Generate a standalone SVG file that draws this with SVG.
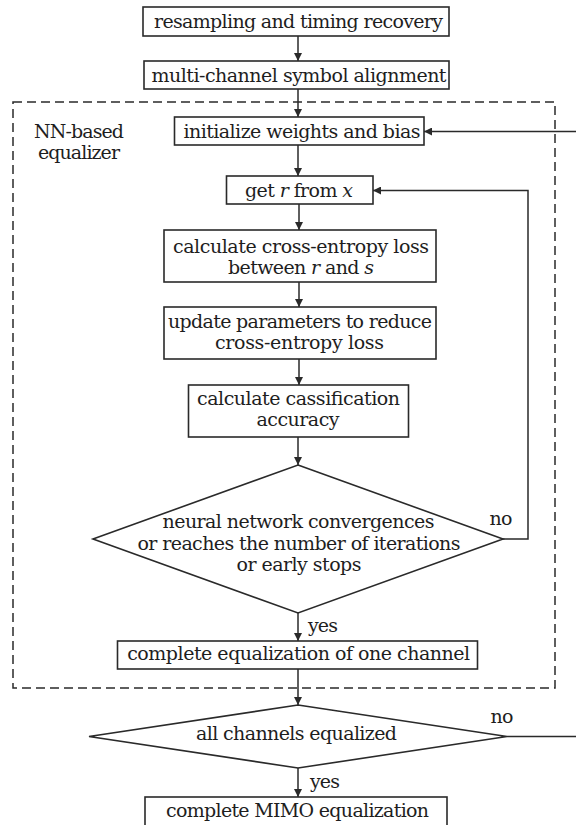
<svg xmlns="http://www.w3.org/2000/svg" width="576" height="825" viewBox="0 0 576 825">
<style>
.box{fill:#fff;stroke:#2a2a2a;stroke-width:1.6}
.ln{fill:none;stroke:#2a2a2a;stroke-width:1.5}
.dash{fill:none;stroke:#2a2a2a;stroke-width:1.5;stroke-dasharray:9 5}
text{font-family:"DejaVu Serif","Liberation Serif",serif;font-size:19px;fill:#1e1e1e;text-anchor:middle}
.it{font-style:italic}
</style>
<defs>
<marker id="ah" viewBox="0 0 10 10" refX="10" refY="5" markerWidth="8" markerHeight="8" markerUnits="userSpaceOnUse" orient="auto">
<path d="M0,0 L10,5 L0,10 z" fill="#2a2a2a"/>
</marker>
</defs>
<rect width="576" height="825" fill="#fff"/>
<rect id="equalizer-frame" class="dash" x="13" y="102" width="542" height="586"/>
<g id="connectors">
<line class="ln" x1="298" y1="36" x2="298" y2="61" marker-end="url(#ah)"/>
<line class="ln" x1="298" y1="89" x2="298" y2="117" marker-end="url(#ah)"/>
<line class="ln" x1="298" y1="145" x2="298" y2="176" marker-end="url(#ah)"/>
<line class="ln" x1="299" y1="204" x2="299" y2="230" marker-end="url(#ah)"/>
<line class="ln" x1="299" y1="282" x2="299" y2="307" marker-end="url(#ah)"/>
<line class="ln" x1="299" y1="359" x2="299" y2="385" marker-end="url(#ah)"/>
<line class="ln" x1="298" y1="437" x2="298" y2="465" marker-end="url(#ah)"/>
<line class="ln" x1="298" y1="613" x2="298" y2="641" marker-end="url(#ah)"/>
<line class="ln" x1="298" y1="669" x2="298" y2="705" marker-end="url(#ah)"/>
<line class="ln" x1="298" y1="768" x2="298" y2="797" marker-end="url(#ah)"/>
<polyline class="ln" points="503,539 528,539 528,190.5 373,190.5" marker-end="url(#ah)"/>
<line class="ln" x1="576" y1="131.5" x2="424" y2="131.5" marker-end="url(#ah)"/>
<line class="ln" x1="507" y1="736.5" x2="576" y2="736.5"/>
<text x="323" y="632" textLength="30">yes</text>
<text x="501" y="525" textLength="23">no</text>
<text x="325" y="788" textLength="30">yes</text>
<text x="502" y="723" textLength="23">no</text>
</g>
<g id="label-nn">
<text x="79" y="138" textLength="90">NN-based</text>
<text x="79" y="159" textLength="82">equalizer</text>
</g>
<g id="n1">
<rect class="box" x="143" y="7" width="306" height="29"/>
<text x="298.5" y="28" textLength="289">resampling and timing recovery</text>
</g>
<g id="n2">
<rect class="box" x="144" y="61" width="305" height="28"/>
<text x="299" y="82" textLength="295">multi-channel symbol alignment</text>
</g>
<g id="n3">
<rect class="box" x="174.5" y="117" width="249.5" height="28"/>
<text x="302" y="137.5" textLength="237">initialize weights and bias</text>
</g>
<g id="n4">
<rect class="box" x="226.5" y="176" width="146.5" height="28"/>
<text x="299" y="196.5" textLength="108">get <tspan class="it">r</tspan> from <tspan class="it">x</tspan></text>
</g>
<g id="n5">
<rect class="box" x="164" y="230" width="272" height="52"/>
<text x="301" y="253" textLength="256">calculate cross-entropy loss</text>
<text x="301" y="274" textLength="146">between <tspan class="it">r</tspan> and <tspan class="it">s</tspan></text>
</g>
<g id="n6">
<rect class="box" x="164" y="307" width="272" height="52"/>
<text x="300" y="328" textLength="264">update parameters to reduce</text>
<text x="299.5" y="349" textLength="169">cross-entropy loss</text>
</g>
<g id="n7">
<rect class="box" x="188.5" y="385" width="220" height="52"/>
<text x="298.5" y="405" textLength="203">calculate cassification</text>
<text x="298" y="426" textLength="83">accuracy</text>
</g>
<g id="d1">
<polygon class="box" points="298,465 503,539 298,613 93,539"/>
<text x="298.5" y="528" textLength="272">neural network convergences</text>
<text x="299" y="549.5" textLength="323">or reaches the number of iterations</text>
<text x="299" y="571" textLength="125">or early stops</text>
</g>
<g id="n8">
<rect class="box" x="117.5" y="641" width="360" height="28"/>
<text x="298.7" y="660" textLength="343">complete equalization of one channel</text>
</g>
<g id="d2">
<polygon class="box" points="298,705 507,736.5 298,768 89,736.5"/>
<text x="296.5" y="740" textLength="201">all channels equalized</text>
</g>
<g id="n9">
<rect class="box" x="145" y="797" width="302" height="40"/>
<text x="297.5" y="817" textLength="263">complete MIMO equalization</text>
</g>
</svg>
